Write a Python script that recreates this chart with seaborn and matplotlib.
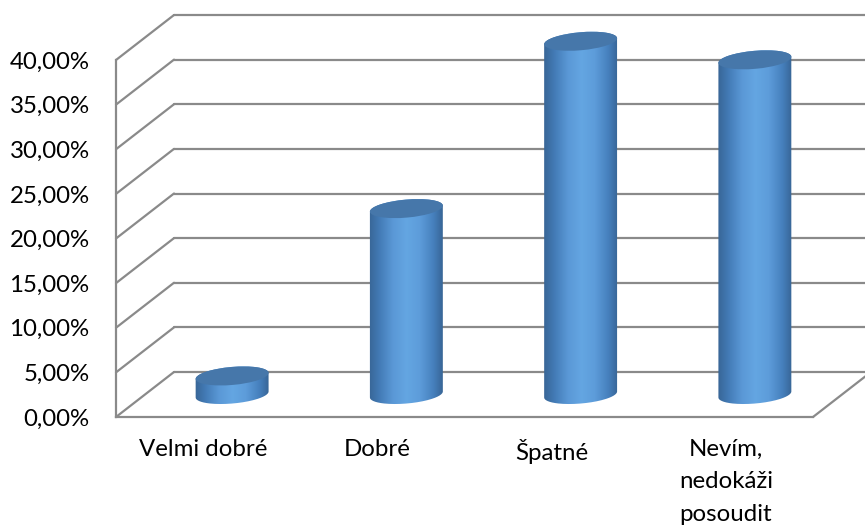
import matplotlib
matplotlib.use("Agg")
import numpy as np
import pandas as pd
import matplotlib.pyplot as plt
import seaborn as sns
from matplotlib.lines import Line2D
from matplotlib.patches import Ellipse
from matplotlib.path import Path
from matplotlib.transforms import IdentityTransform
from matplotlib.colors import LinearSegmentedColormap

# Survey answers and their shares (percent)
categories = ["Velmi dobré", "Dobré", "Špatné", "Nevím,\nnedokáži\nposoudit"]
shares = [2.08, 20.83, 39.58, 37.50]
y_ticks = [0, 5, 10, 15, 20, 25, 30, 35, 40]
y_tick_labels = ["0,00%", "5,00%", "10,00%", "15,00%", "20,00%",
                 "25,00%", "30,00%", "35,00%", "40,00%"]

sns.set_theme(style="white")
plt.rcParams["font.family"] = ["Lato", "DejaVu Sans"]

W, H, DPI = 865, 527, 100
fig = plt.figure(figsize=(W / DPI, H / DPI), dpi=DPI, facecolor="white")

# Box geometry in pixels: front plane and the depth shift towards the back wall
L, B, AW, AH = 116, 110, 697, 357
DX, DY = 58, 45
YMAX = 40
ppu = AH / YMAX
GRID = "#8a8a8a"
LW = 1.6
FS = 17.3


def fig_rect(x, y, w, h):
    return [x / W, y / H, w / W, h / H]


ax_back = fig.add_axes(fig_rect(L + DX, B + DY, AW, AH))
ax = fig.add_axes(fig_rect(L, B, AW, AH))
lo, hi = -5, 45
ax_bar = fig.add_axes(fig_rect(L + DX / 2, B + DY / 2 + lo * ppu, AW, (hi - lo) * ppu))
ax_back.set_zorder(0)
ax.set_zorder(1)
ax_bar.set_zorder(2)

for a in (ax_back, ax, ax_bar):
    a.patch.set_visible(False)
    a.set_xlim(-0.5, len(categories) - 0.5)
ax_back.set_ylim(0, YMAX)
ax.set_ylim(0, YMAX)

# Back wall gridlines
for v in y_ticks:
    ax_back.axhline(v, color=GRID, lw=LW, clip_on=False)
ax_back.set_axis_off()

# Front edges of the box and value axis
for s in ("top", "right"):
    ax.spines[s].set_visible(False)
for s in ("left", "bottom"):
    ax.spines[s].set_color(GRID)
    ax.spines[s].set_linewidth(LW)
ax.set_yticks(y_ticks)
ax.set_yticklabels(y_tick_labels, fontsize=FS, color="black")
ax.set_xticks(range(len(categories)))
ax.set_xticklabels(categories, fontsize=FS, color="black", linespacing=1.66)
ax.tick_params(axis="y", length=0, pad=19)
ax.tick_params(axis="x", length=0, pad=16)
ax.set_xlabel("")
ax.set_ylabel("")

# Side-wall diagonals and the right floor edge
for v in y_ticks:
    x0, y0 = ax.transData.transform((-0.5, v))
    fig.add_artist(Line2D([x0, x0 + DX], [y0, y0 + DY], transform=IdentityTransform(),
                          color=GRID, lw=LW))
x0, y0 = ax.transData.transform((len(categories) - 0.5, 0))
fig.add_artist(Line2D([x0, x0 + DX], [y0, y0 + DY], transform=IdentityTransform(),
                      color=GRID, lw=LW))

# Bars at mid depth, rendered as shaded cylinders
df = pd.DataFrame({"category": categories, "share": shares})
sns.barplot(data=df, x="category", y="share", ax=ax_bar, width=0.42,
            color="#4a84c2", saturation=1)
ax_bar.set_xlim(-0.5, len(categories) - 0.5)
ax_bar.set_ylim(lo, hi)
ax_bar.set_axis_off()

body_cmap = LinearSegmentedColormap.from_list(
    "cyl", ["#355f8d", "#437bb6", "#5a98d6", "#64a6e2", "#5d9cda", "#4680bd", "#325a86"])
grad = np.linspace(0, 1, 256)[None, :]
cap_color = "#4677aa"
b = 9.0
theta = np.deg2rad(5)


def ellipse_pts(cx, cy, a, t):
    return np.column_stack([
        cx + a * np.cos(t) * np.cos(theta) - b * np.sin(t) * np.sin(theta),
        cy + a * np.cos(t) * np.sin(theta) + b * np.sin(t) * np.cos(theta),
    ])


for patch in list(ax_bar.patches):
    bx, bw, bh = patch.get_x(), patch.get_width(), patch.get_height()
    patch.set_visible(False)
    (xl, ybot), = ax_bar.transData.transform([(bx, 0)])
    (xr, ytop), = ax_bar.transData.transform([(bx + bw, bh)])
    cx = (xl + xr) / 2
    a = (xr - xl) / 2
    t_r = np.arctan(-(b / a) * np.tan(theta))
    t_l = t_r + np.pi
    lower = ellipse_pts(cx, ybot, a, np.linspace(t_l, t_r + 2 * np.pi, 80))
    upper = ellipse_pts(cx, ytop, a, np.linspace(t_r, t_l, 80))
    verts = np.vstack([lower, upper, lower[:1]])
    im = ax_bar.imshow(grad, extent=(bx - 0.02, bx + bw + 0.02, lo, hi), aspect="auto",
                       cmap=body_cmap, origin="lower", interpolation="bicubic", zorder=2)
    im.set_clip_path(Path(verts), IdentityTransform())
    ax_bar.add_patch(Ellipse((cx, ytop), 2 * a, 2 * b, angle=np.rad2deg(theta),
                             transform=IdentityTransform(), facecolor=cap_color,
                             edgecolor="none", zorder=3))

ax_bar.set_xlim(-0.5, len(categories) - 0.5)
ax_bar.set_ylim(lo, hi)

fig.savefig("out.png", dpi=DPI, facecolor="white")
